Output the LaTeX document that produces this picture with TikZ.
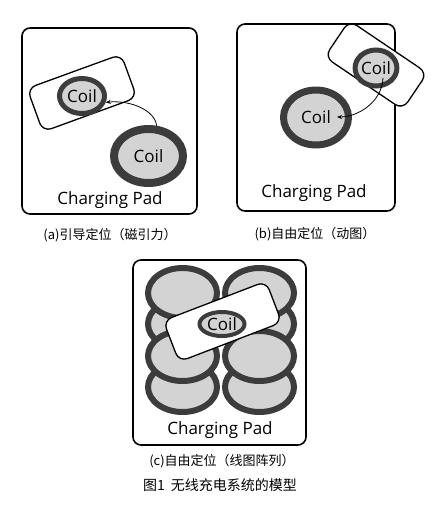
\documentclass[tikz,border=0pt]{standalone}
\usepackage{fontspec}
\setmainfont{Open Sans}
\newfontfamily\cjk{Noto Sans CJK SC}
\usetikzlibrary{shapes.geometric,arrows.meta}
\definecolor{ringgray}{HTML}{3C3C3C}
\definecolor{coilgray}{HTML}{D3D3D3}

\begin{document}
\begin{tikzpicture}[x=1pt,y=-1pt,
  pad/.style={draw, line width=1.6pt, rounded corners=8pt, fill=white},
  board/.style={draw, line width=1.3pt, rounded corners=9pt, fill=white},
  coil/.style={ellipse, draw=ringgray, fill=coilgray, inner sep=0pt, font=\fontsize{17}{17}\selectfont},
  padtext/.style={font=\fontsize{17}{17}\selectfont},
  caption/.style={font=\cjk\fontsize{13}{13}\selectfont}]
\useasboundingbox (0,0) rectangle (433,515);

% (a)
\node[pad, minimum width=175, minimum height=186] (padA) at (109.5,121) {};
\node[board, minimum width=100, minimum height=46, rotate=20] (boardA) at (82,93) {};
\node[coil, line width=5pt, minimum width=45, minimum height=35] (smallA) at (82,96) {Coil};
\node[coil, line width=8pt, minimum width=69, minimum height=54] (bigA) at (148.5,156) {Coil};
\draw[-{Stealth[length=5pt,width=4pt]}, line width=0.8pt] (bigA.75) .. controls (155,110) and (130,100) .. (smallA.-15);
\node[padtext] (labelA) at (110,200) {Charging Pad};
\node[caption] (capA) at (110,235) {(a)引导定位（磁引力）};

% (b)
\node[pad, minimum width=158, minimum height=187] (padB) at (316,117.5) {};
\node[coil, line width=7pt, minimum width=65, minimum height=55] (bigB) at (316,117.5) {Coil};
\node[board, minimum width=94, minimum height=44, rotate=-34] (boardB) at (376,65) {};
\node[coil, line width=5pt, minimum width=41, minimum height=36] (smallB) at (376,68) {Coil};
\coordinate (fromB) at (383,78);
\coordinate (tipB) at (337,117);
\draw[-{Stealth[length=5pt,width=4pt]}, line width=0.8pt] (fromB) .. controls (382,102) and (358,117) .. (tipB);
\node[padtext] (labelB) at (314,193) {Charging Pad};
\node[caption] (capB) at (315,234) {(b)自由定位（动图）};

% (c)
\node[pad, minimum width=173, minimum height=185] (padC) at (219.5,352.5) {};
\foreach \row/\y in {2/324,4/387,1/293,3/356} {
  \node[coil, line width=6pt, minimum width=69, minimum height=50] (coilL\row) at (182.5,\y) {};
  \node[coil, line width=6pt, minimum width=69, minimum height=50] (coilR\row) at (259.5,\y) {};
}
\node[board, minimum width=110, minimum height=44, rotate=21] (boardC) at (222.5,321.5) {};
\node[coil, line width=4pt, minimum width=45, minimum height=24] (smallC) at (222,324) {Coil};
\node[padtext] (labelC) at (220,430) {Charging Pad};
\node[caption] (capC) at (222,461) {(c)自由定位（线图阵列）};

\node[caption, font=\cjk\fontsize{14}{14}\selectfont] (title) at (220,485) {图1\hspace{6pt}无线充电系统的模型};
\end{tikzpicture}
\end{document}
